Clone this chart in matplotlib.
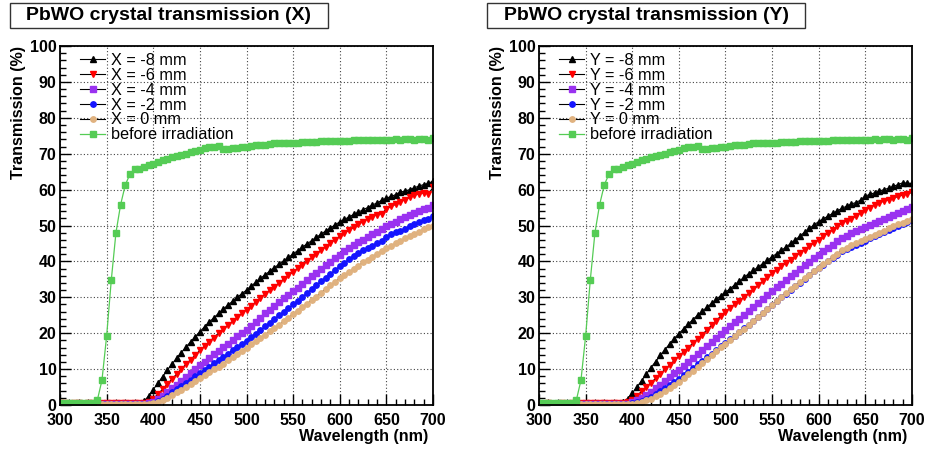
"""PbWO crystal transmission, X and Y scans (ROOT-like style)."""
import numpy as np
import matplotlib
matplotlib.use("Agg")
import matplotlib.pyplot as plt
from matplotlib.patches import Rectangle
from matplotlib.ticker import MultipleLocator

plt.rcParams["font.family"] = ["Liberation Sans", "DejaVu Sans"]

wavelength = np.arange(300, 701, 5)

before_irr = [0.5, 0.6, 0.5, 0.6, 0.5, 0.6, 0.5, 0.6, 1.3, 6.9,
              19.2, 34.8, 48.0, 55.8, 61.3, 64.3, 65.6, 65.6, 66.2, 66.8,
              67.2, 67.7, 68.2, 68.6, 69.1, 69.4, 69.6, 70.0, 70.5, 70.8,
              71.1, 71.5, 71.8, 72.0, 72.1, 71.4, 71.4, 71.5, 71.6, 71.8,
              71.9, 72.1, 72.3, 72.4, 72.5, 72.7, 72.9, 73.0, 72.9, 72.9,
              73.0, 73.1, 73.2, 73.3, 73.2, 73.3, 73.4, 73.5, 73.4, 73.5,
              73.6, 73.6, 73.5, 73.7, 73.8, 73.8, 73.7, 73.9, 73.9, 73.9,
              73.8, 73.9, 74.0, 73.9, 74.0, 74.0, 73.9, 74.0, 74.1, 73.9,
              74.3]

# scan X
x_m8 = [0.6, 0.5, 0.5, 0.4, 0.5, 0.4, 0.5, 0.4, 0.4, 0.5,
        0.4, 0.5, 0.4, 0.4, 0.5, 0.4, 0.5, 0.6, 1.0, 2.5,
        4.3, 6.1, 7.9, 9.7, 11.4, 13.0, 14.6, 16.1, 17.6, 19.0,
        20.4, 21.8, 23.1, 24.3, 25.5, 26.7, 27.8, 28.9, 30.0, 31.0,
        32.0, 33.1, 34.2, 35.3, 36.3, 37.3, 38.3, 39.2, 40.2, 41.1,
        42.1, 43.0, 44.0, 44.9, 45.8, 46.7, 47.6, 48.5, 49.3, 50.2,
        51.0, 51.7, 52.4, 53.1, 53.7, 54.4, 55.0, 55.7, 56.3, 57.0,
        57.6, 58.1, 58.6, 59.3, 59.6, 60.0, 60.5, 61.0, 61.4, 61.7,
        62.4]
x_m6 = [0.5, 0.5, 0.4, 0.5, 0.5, 0.4, 0.5, 0.5, 0.6, 0.5,
        0.6, 0.5, 0.6, 0.5, 0.6, 0.6, 0.5, 0.6, 0.6, 0.9,
        1.8, 3.0, 4.4, 5.8, 7.2, 8.6, 10.0, 11.3, 12.6, 13.9,
        15.2, 16.4, 17.6, 18.8, 20.0, 21.1, 22.2, 23.3, 24.4, 25.5,
        26.5, 27.6, 28.7, 29.8, 30.9, 32.0, 33.0, 34.0, 35.1, 36.1,
        37.1, 38.1, 39.1, 40.1, 41.1, 42.1, 43.1, 44.1, 45.1, 46.1,
        47.0, 47.9, 48.7, 49.5, 50.3, 51.1, 51.8, 52.5, 53.0, 53.3,
        54.6, 55.3, 55.9, 56.6, 57.2, 57.8, 58.4, 58.9, 59.1, 58.8,
        60.6]
x_m4 = [0.4, 0.3, 0.4, 0.4, 0.3, 0.4, 0.4, 0.3, 0.4, 0.4,
        0.4, 0.3, 0.4, 0.4, 0.4, 0.3, 0.4, 0.4, 0.4, 0.5,
        0.9, 1.6, 2.5, 3.5, 4.6, 5.7, 6.8, 7.9, 9.0, 10.1,
        11.1, 12.1, 13.1, 14.1, 15.1, 16.1, 17.1, 18.1, 19.1, 20.0,
        21.0, 22.1, 23.2, 24.3, 25.5, 26.6, 27.6, 28.6, 29.7, 30.7,
        31.7, 32.7, 33.8, 34.8, 35.8, 36.8, 37.8, 38.9, 39.9, 40.9,
        41.9, 42.8, 43.6, 44.5, 45.3, 46.1, 46.8, 47.6, 48.3, 49.1,
        49.8, 50.4, 51.1, 51.7, 52.4, 53.0, 53.6, 54.1, 54.6, 54.9,
        55.8]
x_m2 = [0.3, 0.2, 0.3, 0.2, 0.3, 0.3, 0.2, 0.3, 0.3, 0.2,
        0.3, 0.2, 0.3, 0.3, 0.3, 0.3, 0.3, 0.3, 0.3, 0.4,
        0.6, 1.1, 1.8, 2.6, 3.5, 4.4, 5.3, 6.2, 7.1, 8.0,
        8.9, 9.8, 10.7, 11.6, 12.5, 13.4, 14.3, 15.2, 16.1, 17.0,
        17.9, 18.9, 19.9, 20.9, 21.9, 22.9, 24.0, 25.0, 26.0, 27.0,
        28.0, 29.0, 30.1, 31.2, 32.3, 33.4, 34.5, 35.5, 36.5, 37.6,
        38.6, 39.6, 40.6, 41.5, 42.4, 43.3, 43.6, 44.4, 45.1, 45.7,
        46.9, 47.6, 48.2, 48.5, 49.0, 49.8, 50.4, 51.0, 51.5, 51.9,
        52.6]
x_0 = [0.4, 0.3, 0.4, 0.4, 0.3, 0.4, 0.4, 0.4, 0.3, 0.4,
       0.4, 0.4, 0.3, 0.4, 0.4, 0.4, 0.4, 0.3, 0.4, 0.4,
       0.6, 0.9, 1.4, 2.0, 2.7, 3.5, 4.3, 5.1, 5.9, 6.7,
       7.5, 8.3, 9.1, 9.9, 10.7, 11.5, 12.4, 13.3, 14.2, 15.1,
       16.0, 16.9, 17.8, 18.7, 19.6, 20.5, 21.4, 22.3, 23.3, 24.3,
       25.3, 26.3, 27.2, 28.2, 29.2, 30.2, 31.3, 32.3, 33.3, 34.3,
       35.3, 36.2, 37.0, 37.9, 38.8, 39.7, 40.5, 41.3, 42.1, 42.9,
       43.6, 44.3, 45.0, 45.7, 46.4, 47.0, 47.7, 48.3, 48.9, 49.5,
       50.0]

# scan Y
y_m8 = [0.5, 0.4, 0.5, 0.4, 0.4, 0.5, 0.4, 0.4, 0.5, 0.4,
        0.4, 0.4, 0.5, 0.4, 0.4, 0.4, 0.5, 0.5, 0.8, 1.8,
        3.3, 5.0, 6.8, 8.6, 10.4, 12.1, 13.8, 15.4, 17.0, 18.5,
        19.9, 21.2, 22.5, 23.8, 25.0, 26.1, 27.2, 28.3, 29.4, 30.5,
        31.4, 32.4, 33.5, 34.5, 35.6, 36.6, 37.5, 38.4, 39.4, 40.3,
        41.3, 42.2, 43.1, 44.0, 45.0, 46.0, 47.1, 48.2, 49.2, 50.2,
        51.1, 51.9, 52.6, 53.4, 54.1, 54.8, 55.4, 56.0, 56.4, 57.1,
        58.2, 58.7, 59.1, 59.6, 60.0, 60.4, 60.9, 61.4, 61.9, 61.8,
        61.7]
y_m6 = [0.4, 0.4, 0.5, 0.4, 0.4, 0.5, 0.4, 0.5, 0.5, 0.5,
        0.5, 0.5, 0.5, 0.6, 0.5, 0.5, 0.6, 0.5, 0.5, 0.7,
        1.5, 2.6, 3.8, 5.0, 6.2, 7.4, 8.6, 9.9, 11.1, 12.4,
        13.6, 14.8, 16.0, 17.2, 18.4, 19.6, 20.9, 22.2, 23.5, 24.8,
        26.0, 27.1, 28.1, 29.1, 30.1, 31.1, 32.2, 33.3, 34.5, 35.6,
        36.7, 37.7, 38.6, 39.6, 40.5, 41.4, 42.4, 43.3, 44.3, 45.2,
        46.1, 47.0, 47.9, 48.8, 49.8, 50.7, 51.3, 51.9, 52.6, 53.6,
        54.4, 55.0, 55.7, 56.3, 56.8, 57.2, 57.6, 58.1, 58.5, 58.8,
        59.2]
y_m4 = [0.3, 0.3, 0.4, 0.3, 0.3, 0.3, 0.4, 0.3, 0.3, 0.3,
        0.3, 0.3, 0.3, 0.4, 0.3, 0.3, 0.3, 0.3, 0.3, 0.4,
        0.7, 1.3, 2.0, 2.8, 3.7, 4.7, 5.7, 6.7, 7.7, 8.8,
        9.8, 10.9, 12.0, 13.1, 14.2, 15.3, 16.4, 17.6, 18.7, 19.9,
        21.0, 22.0, 23.0, 24.0, 25.1, 26.1, 27.2, 28.3, 29.4, 30.6,
        31.7, 32.8, 33.8, 34.8, 35.8, 36.8, 37.8, 38.9, 39.9, 40.9,
        41.9, 42.8, 43.7, 44.6, 45.6, 46.5, 47.2, 47.9, 48.5, 49.1,
        49.7, 50.2, 50.7, 51.2, 51.7, 52.3, 52.8, 53.4, 54.0, 54.5,
        55.1]
y_m2 = [0.3, 0.2, 0.3, 0.2, 0.2, 0.3, 0.2, 0.2, 0.3, 0.2,
        0.2, 0.3, 0.2, 0.2, 0.2, 0.3, 0.2, 0.2, 0.3, 0.3,
        0.5, 0.8, 1.2, 1.7, 2.3, 3.0, 3.8, 4.6, 5.5, 6.4,
        7.3, 8.3, 9.3, 10.3, 11.3, 12.3, 13.3, 14.3, 15.3, 16.3,
        17.3, 18.3, 19.3, 20.3, 21.4, 22.4, 23.5, 24.6, 25.7, 26.8,
        27.9, 28.9, 30.0, 31.0, 32.0, 33.1, 34.1, 35.2, 36.2, 37.2,
        38.2, 39.1, 40.0, 41.0, 41.9, 42.8, 43.5, 44.1, 44.6, 45.2,
        45.8, 46.4, 47.0, 47.6, 48.2, 48.8, 49.4, 49.9, 50.5, 51.0,
        51.5]
y_0 = [0.4, 0.3, 0.3, 0.4, 0.3, 0.3, 0.4, 0.3, 0.3, 0.4,
       0.3, 0.3, 0.4, 0.3, 0.3, 0.3, 0.4, 0.3, 0.3, 0.3,
       0.4, 0.6, 0.9, 1.3, 1.8, 2.4, 3.1, 3.9, 4.7, 5.6,
       6.5, 7.5, 8.5, 9.6, 10.7, 11.8, 12.9, 14.0, 15.1, 16.1,
       17.1, 18.1, 19.1, 20.2, 21.3, 22.4, 23.5, 24.5, 25.6, 26.7,
       27.8, 28.9, 30.0, 31.1, 32.2, 33.2, 34.3, 35.3, 36.3, 37.3,
       38.3, 39.2, 40.1, 41.1, 42.1, 43.1, 43.8, 44.5, 45.1, 45.6,
       46.2, 46.8, 47.4, 48.0, 48.6, 49.2, 49.8, 50.3, 50.8, 51.3,
       51.7]

positions = ["-8", "-6", "-4", "-2", "0"]
colors = ["black", "#ff0000", "#9a32f0", "#1414ff", "#e0b27f"]
markers = ["^", "v", "s", "o", "o"]
msizes = [4.6, 4.6, 3.9, 3.9, 3.9]
GREEN = "#55cc55"


def draw_panel(ax, series, axis_name):
    for pos, vals, c, m, ms in zip(positions, series, colors, markers, msizes):
        ax.plot(wavelength, vals, color="black", lw=0.8, marker=m, ms=ms,
                mfc=c, mec=c, label=f"{axis_name} = {pos} mm")
    ax.plot(wavelength, before_irr, color=GREEN, lw=0.9, marker="s", ms=3.9,
            mfc=GREEN, mec=GREEN, label="before irradiation")
    ax.set_xlim(300, 700)
    ax.set_ylim(0, 100)
    ax.xaxis.set_major_locator(MultipleLocator(50))
    ax.xaxis.set_minor_locator(MultipleLocator(10))
    ax.yaxis.set_major_locator(MultipleLocator(10))
    ax.yaxis.set_minor_locator(MultipleLocator(2))
    ax.tick_params(which="both", direction="in", top=False, right=False,
                   width=1.0)
    ax.tick_params(which="major", length=8)
    ax.tick_params(which="minor", length=4)
    ax.tick_params(axis="x", which="major", pad=6, labelsize=11.5)
    ax.tick_params(axis="y", which="major", pad=2.5, labelsize=11.5)
    for lab in ax.get_xticklabels() + ax.get_yticklabels():
        lab.set_fontweight("bold")
    ax.grid(True, which="major", color="#444444", lw=0.8,
            linestyle=(0, (1, 2)))
    for sp in ax.spines.values():
        sp.set_linewidth(1.3)
    ax.set_xlabel("Wavelength (nm)", fontsize=11.6, fontweight="bold",
                  loc="right")
    ax.xaxis.set_label_coords(0.987, -0.067)
    ax.set_ylabel("Transmission (%)", fontsize=11.6, fontweight="bold",
                  loc="top", labelpad=3)
    ax.legend(loc="upper left", bbox_to_anchor=(0.05, 0.985), frameon=False,
              fontsize=11.7, numpoints=1, handlelength=1.55,
              handletextpad=0.35, labelspacing=-0.01, borderpad=0.1,
              borderaxespad=0)


def title_box(fig, x0, x1, text):
    W, H = fig.get_size_inches() * fig.dpi
    rect = Rectangle((x0 / W, 1 - 28 / H), (x1 - x0) / W, 25 / H,
                     transform=fig.transFigure, facecolor="white",
                     edgecolor="#333333", lw=1.0)
    fig.patches.append(rect)
    fig.text((x0 + x1) / 2 / W, 1 - 15.5 / H, text, ha="center",
             va="center", fontsize=14, fontweight="bold")


fig = plt.figure(figsize=(9.28, 4.49), dpi=100)
ax1 = fig.add_axes([60 / 928, 44 / 449, 373 / 928, 359 / 449])
ax2 = fig.add_axes([539 / 928, 44 / 449, 373 / 928, 359 / 449])
draw_panel(ax1, [x_m8, x_m6, x_m4, x_m2, x_0], "X")
draw_panel(ax2, [y_m8, y_m6, y_m4, y_m2, y_0], "Y")
title_box(fig, 10, 328, "PbWO crystal transmission (X)")
title_box(fig, 487, 805, "PbWO crystal transmission (Y)")
fig.savefig("out.png", dpi=100)
